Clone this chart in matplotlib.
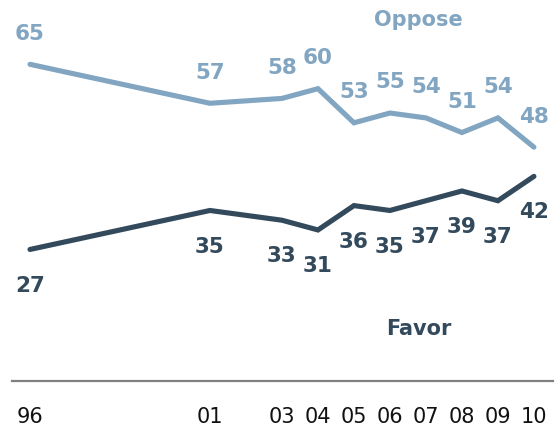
import matplotlib
matplotlib.use("Agg")
import matplotlib.pyplot as plt

years = [1996, 2001, 2003, 2004, 2005, 2006, 2007, 2008, 2009, 2010]
tick_labels = ["96", "01", "03", "04", "05", "06", "07", "08", "09", "10"]
oppose = [65, 57, 58, 60, 53, 55, 54, 51, 54, 48]
favor = [27, 35, 33, 31, 36, 35, 37, 39, 37, 42]

c_opp = "#82a6c2"
c_fav = "#33495c"

fig = plt.figure(figsize=(5.6, 4.29), dpi=100)
ax = fig.add_axes([12/560, 48/429, 541/560, 381/429])
ax.set_xlim(1995.5, 2010.53)
ax.set_ylim(0, 78.2)

ax.plot(years, oppose, color=c_opp, lw=3.7, solid_joinstyle="miter", solid_capstyle="round")
ax.plot(years, favor, color=c_fav, lw=3.7, solid_joinstyle="miter", solid_capstyle="round")

for x, y in zip(years, oppose):
    ax.annotate(str(y), (x, y), xytext=(0, 22), textcoords="offset points",
                ha="center", va="center", fontsize=15.5, fontweight="bold", color=c_opp)
for x, y in zip(years, favor):
    ax.annotate(str(y), (x, y), xytext=(0, -26), textcoords="offset points",
                ha="center", va="center", fontsize=15.5, fontweight="bold", color=c_fav)

ax.text(2006.8, 65 + (64 - 20) / 4.85, "Oppose", ha="center", va="center",
        fontsize=15, fontweight="bold", color=c_opp)
ax.text(2006.8, 65 - (327 - 64) / 4.85, "Favor", ha="center", va="center",
        fontsize=15, fontweight="bold", color=c_fav)

for s in ["top", "right", "left"]:
    ax.spines[s].set_visible(False)
ax.spines["bottom"].set_color("#808080")
ax.spines["bottom"].set_linewidth(1.6)
ax.set_yticks([])
ax.set_xticks(years)
ax.set_xticklabels(tick_labels, fontsize=15, color="#111111")
ax.tick_params(axis="x", length=0, pad=19)

fig.savefig("out.png", dpi=100)
